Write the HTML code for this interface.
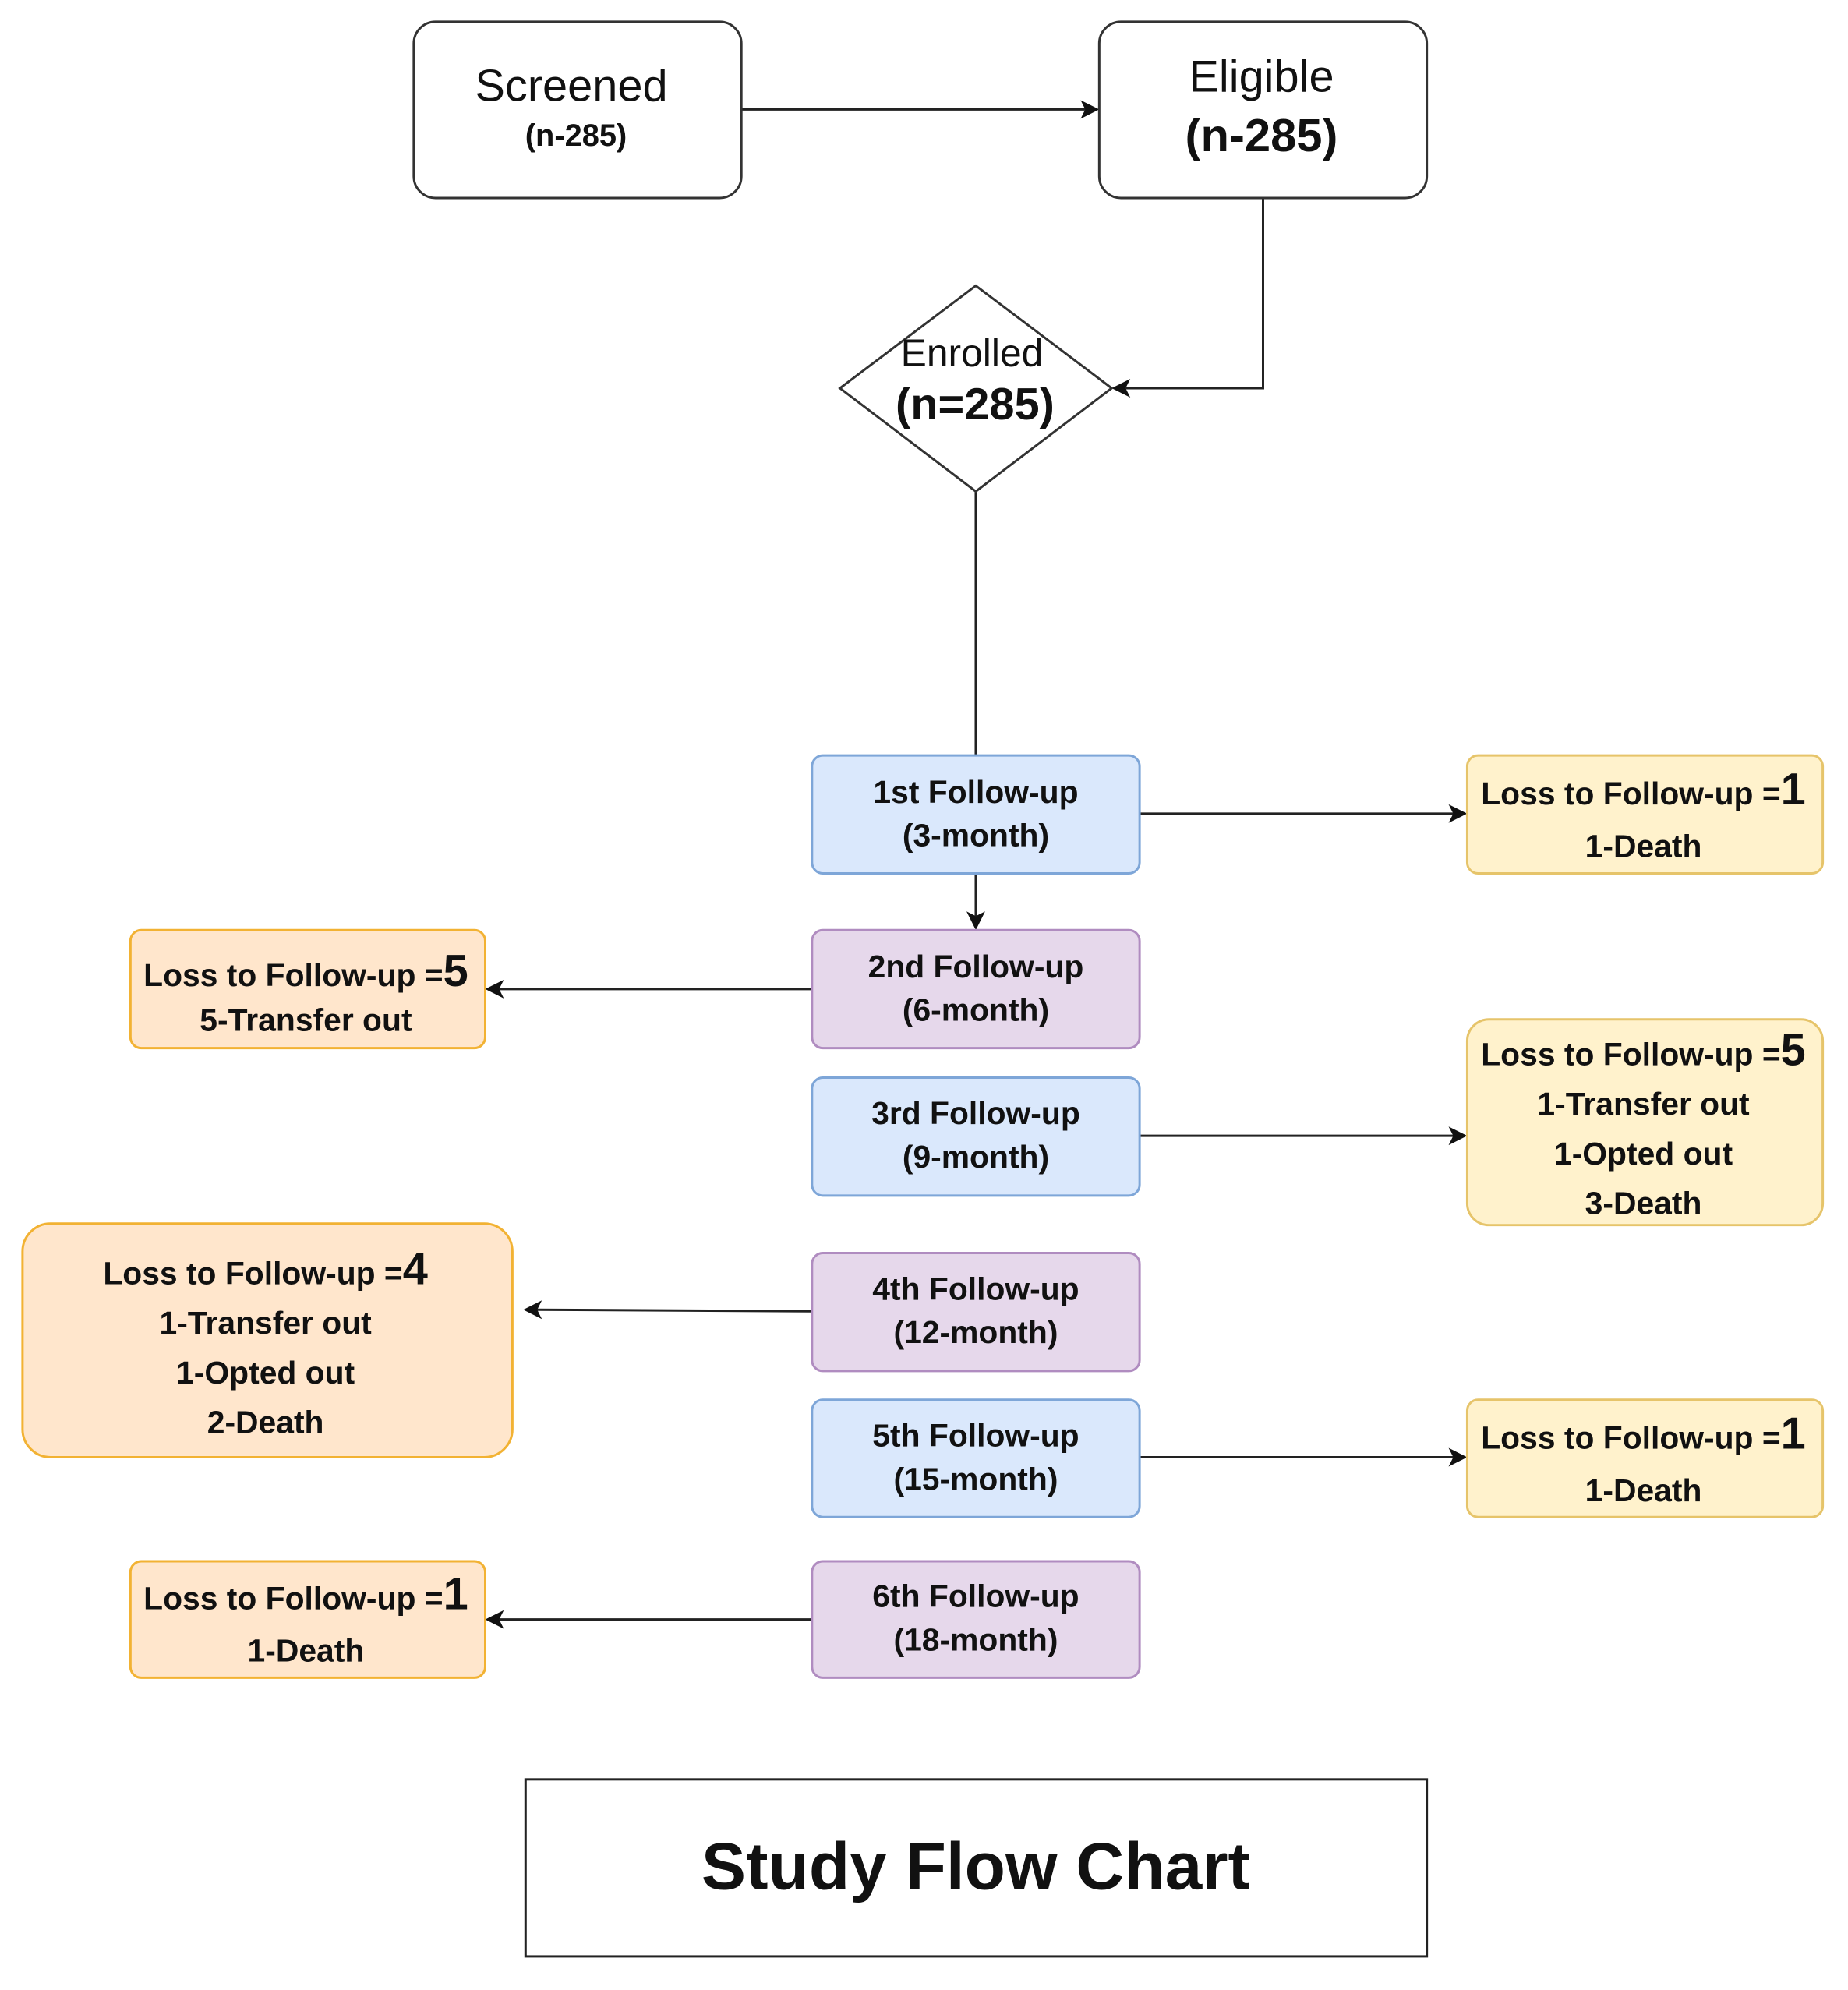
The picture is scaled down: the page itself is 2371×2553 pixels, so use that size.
<!DOCTYPE html>
<html><head><meta charset="utf-8"><style>html,body{margin:0;padding:0;background:#fff}svg{display:block}</style></head>
<body>
<svg width="2371" height="2553" viewBox="0 0 2371 2553" xmlns="http://www.w3.org/2000/svg" font-family="Liberation Sans, sans-serif">
<g transform="scale(0.996)">
<g fill="none" stroke="#222" stroke-width="3">
<line x1="955" y1="141" x2="1400" y2="141"/>
<polyline points="1627,255 1627,500 1450,500"/>
<line x1="1257" y1="633" x2="1257" y2="973"/>
<line x1="1257" y1="1125" x2="1257" y2="1180"/>
<line x1="1468" y1="1048" x2="1872" y2="1048"/>
<line x1="1046" y1="1274" x2="643" y2="1274"/>
<line x1="1468" y1="1463" x2="1872" y2="1463"/>
<line x1="1046" y1="1689" x2="692" y2="1687"/>
<line x1="1468" y1="1877" x2="1872" y2="1877"/>
<line x1="1046" y1="2086" x2="643" y2="2086"/>
</g>
<g fill="#111">
<polygon points="1416,141 1392,129 1398,141 1392,153"/>
<polygon points="1432,500 1456,488 1450,500 1456,512"/>
<polygon points="1257,1198 1245,1174 1257,1180 1269,1174"/>
<polygon points="1890,1048 1866,1036 1872,1048 1866,1060"/>
<polygon points="625,1274 649,1262 643,1274 649,1286"/>
<polygon points="1890,1463 1866,1451 1872,1463 1866,1475"/>
<polygon points="674,1687 698,1675 692,1687 698,1699"/>
<polygon points="1890,1877 1866,1865 1872,1877 1866,1889"/>
<polygon points="625,2086 649,2074 643,2086 649,2098"/>
</g>
<g stroke-width="3">
<rect x="533" y="28" width="422" height="227" rx="28" fill="#fff" stroke="#333"/>
<rect x="1416" y="28" width="422" height="227" rx="28" fill="#fff" stroke="#333"/>
<polygon points="1257,368 1432,500 1257,633 1082,500" fill="#fff" stroke="#333"/>
<rect x="1046" y="973" width="422" height="152" rx="14" fill="#dae8fc" stroke="#7ea6d8"/>
<rect x="1046" y="1198" width="422" height="152" rx="14" fill="#e6d8eb" stroke="#b08cc0"/>
<rect x="1046" y="1388" width="422" height="152" rx="14" fill="#dae8fc" stroke="#7ea6d8"/>
<rect x="1046" y="1614" width="422" height="152" rx="14" fill="#e6d8eb" stroke="#b08cc0"/>
<rect x="1046" y="1803" width="422" height="151" rx="14" fill="#dae8fc" stroke="#7ea6d8"/>
<rect x="1046" y="2011" width="422" height="150" rx="14" fill="#e6d8eb" stroke="#b08cc0"/>
<rect x="1890" y="973" width="458" height="152" rx="14" fill="#fff2cc" stroke="#e6c46a"/>
<rect x="1890" y="1313" width="458" height="265" rx="28" fill="#fff2cc" stroke="#e6c46a"/>
<rect x="1890" y="1803" width="458" height="151" rx="14" fill="#fff2cc" stroke="#e6c46a"/>
<rect x="168" y="1198" width="457" height="152" rx="14" fill="#ffe6cc" stroke="#f2b233"/>
<rect x="29" y="1576" width="631" height="301" rx="36" fill="#ffe6cc" stroke="#f2b233"/>
<rect x="168" y="2011" width="457" height="150" rx="14" fill="#ffe6cc" stroke="#f2b233"/>
<rect x="677" y="2292" width="1161" height="228" fill="#fff" stroke="#222"/>
</g>
<g fill="#111" text-anchor="middle">
<text x="736" y="130" font-size="58">Screened</text>
<text x="742" y="188" font-size="40" font-weight="bold">(n-285)</text>
<text x="1625" y="118" font-size="58">Eligible</text>
<text x="1625" y="195" font-size="60" font-weight="bold">(n-285)</text>
<text x="1252" y="472" font-size="50">Enrolled</text>
<text x="1256" y="540" font-size="58" font-weight="bold">(n=285)</text>
<g font-size="41" font-weight="bold">
<text x="1257" y="1034">1st Follow-up</text><text x="1257" y="1090">(3-month)</text>
<text x="1257" y="1259">2nd Follow-up</text><text x="1257" y="1315">(6-month)</text>
<text x="1257" y="1448">3rd Follow-up</text><text x="1257" y="1504">(9-month)</text>
<text x="1257" y="1674">4th Follow-up</text><text x="1257" y="1730">(12-month)</text>
<text x="1257" y="1863">5th Follow-up</text><text x="1257" y="1919">(15-month)</text>
<text x="1257" y="2070">6th Follow-up</text><text x="1257" y="2126">(18-month)</text>
<text x="2117" y="1036">Loss to Follow-up =<tspan font-size="58">1</tspan></text>
<text x="2117" y="1104">1-Death</text>
<text x="2117" y="1372">Loss to Follow-up =<tspan font-size="58">5</tspan></text>
<text x="2117" y="1436">1-Transfer out</text>
<text x="2117" y="1500">1-Opted out</text>
<text x="2117" y="1564">3-Death</text>
<text x="2117" y="1866">Loss to Follow-up =<tspan font-size="58">1</tspan></text>
<text x="2117" y="1934">1-Death</text>
<text x="394" y="1270">Loss to Follow-up =<tspan font-size="58">5</tspan></text>
<text x="394" y="1328">5-Transfer out</text>
<text x="342" y="1654">Loss to Follow-up =<tspan font-size="58">4</tspan></text>
<text x="342" y="1718">1-Transfer out</text>
<text x="342" y="1782">1-Opted out</text>
<text x="342" y="1846">2-Death</text>
<text x="394" y="2073">Loss to Follow-up =<tspan font-size="58">1</tspan></text>
<text x="394" y="2140">1-Death</text>
</g>
<text x="1257" y="2433" font-size="86" font-weight="bold">Study Flow Chart</text>
</g>
</g>
</svg>
</body></html>
